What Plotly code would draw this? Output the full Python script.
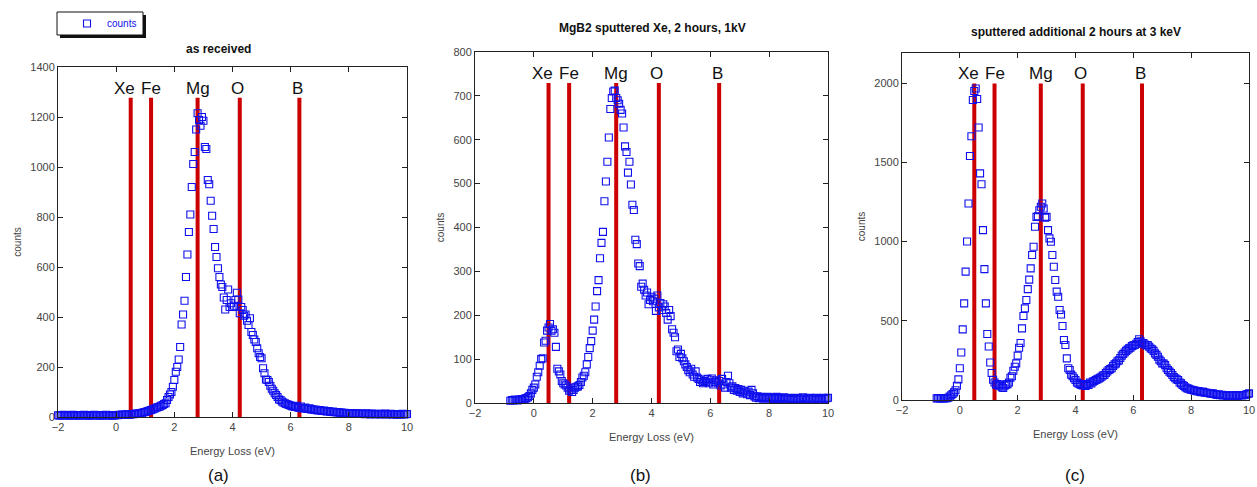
import numpy as np
import plotly.graph_objects as go

# ---------------- data ----------------
step = 0.05
start_a = -2.0
start_b = -0.8
start_c = -0.8

counts_a = [7,5,8,6,9,7,6,8,5,7, 9,6,7,8,5,6,8,7,9,6, 7,5,8,6,7,9,6,8,7,5, 8,6,7,9,6,7,8,5,7,6,
            8,7,9,8,10,9,8,11,10,9,
            10,12,11,13,14,13,15,16,17,19,
            20,22,24,26,28,30,33,35,38,40,
            42,45,48,52,55,68,80,90,100,121,
            148,181,200,230,280,370,410,465,560,650,
            740,810,920,1012,1060,1150,1215,1188,1165,1200,
            1185,1080,1072,948,931,865,805,752,680,640,
            595,560,530,520,478,430,468,510,440,455,
            440,445,468,497,470,415,440,428,405,410,
            385,368,395,340,328,310,300,275,255,240,
            235,195,175,150,148,140,125,113,105,95,
            88,80,70,68,62,58,55,52,50,48,
            45,43,42,40,45,38,36,42,35,34,
            38,33,32,35,30,31,28,30,27,26,
            28,25,24,26,23,22,24,21,20,22,
            19,20,18,19,17,18,16,17,15,16,
            14,15,13,16,12,14,15,13,12,14, 13,11,15,12,13,10,14,12,11,13,
            12,10,13,11,12,14,10,12,11,13, 10,12,11,9,12,10,11,13,10,11,12]

counts_b = [5,7,6,8,7,6,8,7,9,8,
            10,11,13,16,22,30,35,42,60,70,
            85,100,102,138,142,165,172,180,165,168,
            160,128,78,72,65,50,45,42,40,35,
            28,30,25,30,35,37,38,41,48,58,
            62,70,88,105,125,141,165,190,220,255,
            280,330,365,390,460,505,550,605,670,695,
            710,712,695,690,682,668,660,628,585,572,
            525,550,498,452,440,372,362,318,312,265,
            272,258,245,252,225,235,242,232,238,210,
            245,218,228,212,225,220,205,190,212,198,
            168,160,150,118,122,105,112,102,95,88,
            82,75,70,78,65,60,72,58,55,48,
            52,45,50,48,55,45,52,56,42,48,
            52,45,50,40,55,42,35,48,62,45,
            35,38,30,34,28,32,25,30,22,28,
            24,20,26,18,30,22,15,12,15,11,
            14,12,10,13,11,14,
            12,10,13,9,11,14,10,12,9,11, 13,8,10,12,9,11,7,10,12,9,
            11,8,10,13,9,7,11,10,12,8, 10,9,12,7,11,10,8,12,9,11,12]

counts_c = [10,12,11,9,11,10,12,11,14,22,
            30,38,48,62,90,130,200,300,446,610,
            810,1000,1240,1540,1665,1893,1950,1966,1900,1720,
            1430,1362,1072,826,610,417,338,237,170,128,
            110,97,100,90,97,80,76,90,97,100,
            110,140,150,185,210,231,280,330,360,452,
            530,578,631,700,760,831,915,967,1093,1156,
            1160,1198,1220,1240,1209,1150,1156,1072,1020,999,
            915,841,757,684,652,568,540,467,379,347,
            263,200,189,160,150,137,126,110,105,100,
            95,92,95,88,100,95,110,105,116,120,
            126,130,135,140,147,155,158,170,180,189,
            195,200,215,225,231,245,250,265,280,290,
            300,310,318,326,330,340,345,347,355,365,
            383,370,357,360,350,345,347,336,325,320,
            310,294,285,273,255,245,231,230,220,200,
            189,179,170,158,145,137,130,126,110,105,
            95,88,80,74,72,68,
            65,63,60,58,55,56,52,50,53,48, 46,45,44,42,40,42,38,35,32,36,
            30,33,28,32,30,25,28,25,30,27, 32,28,26,30,32,28,32,30,35,38,42]

elements = ["Xe", "Fe", "Mg", "O", "B"]
element_energy = [0.5, 1.2, 2.8, 4.25, 6.3]
element_shift = [-6, 0, 0, -2, -2]

titles = ["as received", "MgB2 sputtered Xe, 2 hours, 1kV", "sputtered additional 2 hours at 3 keV"]
panel_labels = ["(a)", "(b)", "(c)"]
y_ranges = [[0, 1400], [0, 800], [0, 2190]]
y_dticks = [200, 100, 500]
x_ticks = [-2, 0, 2, 4, 6, 8, 10]

# ---------------- layout geometry ----------------
W, H = 1257, 487
def px_x(p): return p / W
def px_y(p): return 1 - p / H

x_domains = [[px_x(58), px_x(407)], [px_x(475), px_x(828)], [px_x(902), px_x(1249)]]
y_domains = [[px_y(417), px_y(67)], [px_y(403), px_y(52)], [px_y(400), px_y(53)]]
title_pos = [(218, 49), (652, 28), (1076, 32)]
label_pos = [(218, 475), (640, 475), (1075, 475)]

FONT = "Arial, Liberation Sans, sans-serif"
BLUE = "#1010ee"
RED = "#cc0000"

fig = go.Figure()
series = [(start_a, counts_a), (start_b, counts_b), (start_c, counts_c)]
for i, (s, c) in enumerate(series):
    e = np.round(s + step * np.arange(len(c)), 2)
    suffix = "" if i == 0 else str(i + 1)
    fig.add_trace(go.Scatter(
        x=e, y=c, mode="markers", name="counts",
        showlegend=(i == 0), cliponaxis=False,
        marker=dict(symbol="square-open", size=7, color=BLUE, line=dict(width=1.1, color=BLUE)),
        xaxis="x" + suffix, yaxis="y" + suffix,
    ))

shapes = []
annotations = []
layout_axes = {}
for i in range(3):
    suffix = "" if i == 0 else str(i + 1)
    axis_common = dict(
        showline=True, linecolor="#222", linewidth=1, mirror="ticks",
        ticks="inside", ticklen=5, tickcolor="#222", showgrid=False, zeroline=False,
        tickfont=dict(family=FONT, size=11, color="#444"), automargin=False,
    )
    layout_axes["xaxis" + suffix] = dict(
        axis_common, domain=x_domains[i], range=[-2, 10], tickvals=x_ticks,
        anchor="y" + suffix,
        title=dict(text="Energy Loss (eV)", font=dict(family=FONT, size=11, color="#444"), standoff=15),
    )
    layout_axes["yaxis" + suffix] = dict(
        axis_common, domain=y_domains[i], range=y_ranges[i], dtick=y_dticks[i], tick0=0,
        anchor="x" + suffix,
        title=dict(text="counts", font=dict(family=FONT, size=10, color="#444"), standoff=6),
    )
    for el, en, sh in zip(elements, element_energy, element_shift):
        shapes.append(dict(type="line", xref="x" + suffix, yref="y" + suffix + " domain",
                           x0=en, x1=en, y0=0, y1=0.912, layer="below",
                           line=dict(color=RED, width=4)))
        annotations.append(dict(xref="x" + suffix, yref="y" + suffix + " domain",
                                x=en, y=0.94, text=el, showarrow=False, xshift=sh,
                                font=dict(family=FONT, size=17, color="#111"),
                                xanchor="center", yanchor="middle"))
    tx, ty = title_pos[i]
    annotations.append(dict(xref="paper", yref="paper", x=px_x(tx), y=px_y(ty),
                            text="<b>" + titles[i] + "</b>", showarrow=False,
                            font=dict(family=FONT, size=12, color="#111"),
                            xanchor="center", yanchor="middle"))
    lx, ly = label_pos[i]
    annotations.append(dict(xref="paper", yref="paper", x=px_x(lx), y=px_y(ly),
                            text=panel_labels[i], showarrow=False,
                            font=dict(family=FONT, size=17, color="#111"),
                            xanchor="center", yanchor="middle"))

# legend frame with drop shadow
shapes.append(dict(type="rect", xref="paper", yref="paper",
                   x0=px_x(60), x1=px_x(146), y0=px_y(38), y1=px_y(15),
                   fillcolor="#111", line=dict(width=0), layer="above"))
shapes.append(dict(type="rect", xref="paper", yref="paper",
                   x0=px_x(57), x1=px_x(143), y0=px_y(35), y1=px_y(12),
                   fillcolor="white", line=dict(width=1, color="#111"), layer="above"))

fig.update_layout(
    width=W, height=H, margin=dict(l=0, r=0, t=0, b=0, autoexpand=False),
    paper_bgcolor="white", plot_bgcolor="white",
    shapes=shapes, annotations=annotations,
    showlegend=True,
    legend=dict(x=px_x(67), y=px_y(9), xanchor="left", yanchor="top",
                bgcolor="rgba(0,0,0,0)", borderwidth=0,
                font=dict(family=FONT, size=10, color=BLUE), itemwidth=30),
    **layout_axes,
)

fig.write_html("out.html", config={"displayModeBar": False},
               post_script="document.body.style.margin='0';document.body.style.overflow='hidden';")
